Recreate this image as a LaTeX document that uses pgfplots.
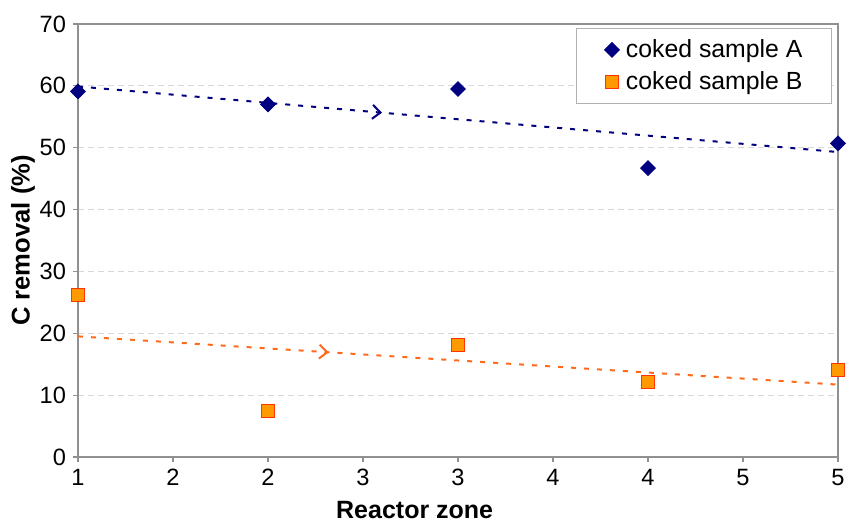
\documentclass[border=0pt]{standalone}
\usepackage{fontspec}
\setmainfont{Liberation Sans}
\usepackage{pgfplots}
\pgfplotsset{compat=1.18}
\usetikzlibrary{decorations.markings,arrows.meta}
\definecolor{navyA}{HTML}{000080}
\definecolor{orangeB}{HTML}{FF9900}
\definecolor{redB}{HTML}{FF3300}
\definecolor{trendB}{HTML}{FF6A1A}
\definecolor{axgray}{HTML}{909090}
\definecolor{gridgray}{HTML}{D8D8D8}
\begin{document}
\begin{tikzpicture}
\useasboundingbox (-39pt,-32.5pt) rectangle (385pt,228.5pt);
\begin{axis}[
  at={(0pt,0pt)}, anchor=south west,
  scale only axis, width=380pt, height=216.5pt,
  xmin=1, xmax=5, ymin=0, ymax=70,
  xtick={1,1.5,...,5}, xticklabels={1,2,2,3,3,4,4,5,5},
  ytick={0,10,...,70},
  axis line style={draw=axgray, line width=0.6pt},
  tick style={draw=axgray, line width=0.6pt},
  tick align=outside, major tick length=2.5pt, tick pos=left,
  ymajorgrids, grid style={draw=gridgray, dash pattern=on 3pt off 2pt, line width=0.5pt},
  ticklabel style={font=\fontsize{11.8}{13}\selectfont},
  /pgf/number format/assume math mode=true,
  xlabel={\textbf{Reactor zone}},
  xlabel style={at={(axis description cs:0.443,0)}, anchor=base, yshift=-31pt, font=\fontsize{12.5}{14}\selectfont},
  ylabel={\textbf{C removal (\%)}},
  ylabel style={at={(axis description cs:-0.0724,0.5)}, anchor=center, font=\fontsize{12.8}{14}\selectfont},
  legend style={at={(rel axis cs:0.992,0.991)}, anchor=north east, draw=axgray!70, line width=0.5pt, fill=white,
    inner xsep=3.5pt, inner ysep=4.5pt, row sep=3.5pt, font=\fontsize{12.4}{14}\selectfont,
    nodes={inner xsep=2pt, inner ysep=1pt}},
  legend cell align=left,
  legend image code/.code={\path[draw=none,fill=none] (-14pt,0pt) -- (5pt,0pt); \draw[#1] plot coordinates {(0pt,0pt)};},
]
% trend lines (linear fits of the data below)
\addplot[navyA, line width=1pt, dash pattern=on 2.5pt off 4pt, forget plot,
  postaction={decorate}, decoration={markings, mark=at position 0.40 with {\arrow[solid, line width=1pt]{Straight Barb[length=4pt,width=7pt]}}}]
  coordinates {(1,59.9) (5,49.3)};
\addplot[trendB, line width=1pt, dash pattern=on 2.5pt off 4pt, forget plot,
  postaction={decorate}, decoration={markings, mark=at position 0.33 with {\arrow[solid, line width=1pt]{Straight Barb[length=4pt,width=7pt]}}}]
  coordinates {(1,19.5) (5,11.7)};
% data
\addplot[only marks, mark=square*, mark size=2.6pt, mark options={rotate=45, fill=navyA, draw=navyA}, navyA]
  coordinates {(1,59.1) (2,57.0) (3,59.5) (4,46.7) (5,50.7)};
\addlegendentry{coked sample A\hspace*{9pt}}
\addplot[only marks, mark=square*, mark size=3.3pt, mark options={fill=orangeB, draw=redB, line width=0.6pt}, redB]
  coordinates {(1,26.2) (2,7.4) (3,18.1) (4,12.1) (5,14.1)};
\addlegendentry{coked sample B\hspace*{9pt}}
\end{axis}
\end{tikzpicture}
\end{document}
